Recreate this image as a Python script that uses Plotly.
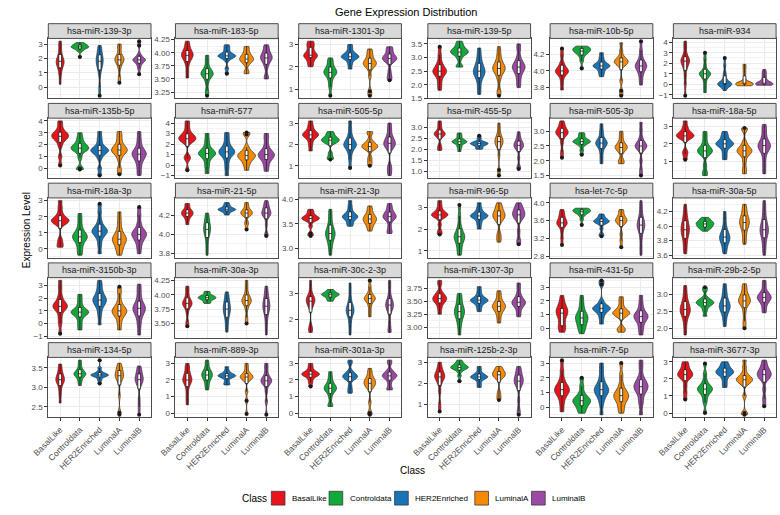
import numpy as np
import plotly.graph_objects as go

CLASSES = ["BasalLike", "Controldata", "HER2Enriched", "LuminalA", "LuminalB"]
COLORS = ["#E8141C", "#14A83B", "#1A73B5", "#F58A07", "#9B4AA3"]

GENES = [
    "hsa-miR-139-3p", "hsa-miR-183-5p", "hsa-miR-1301-3p", "hsa-miR-139-5p", "hsa-miR-10b-5p", "hsa-miR-934",
    "hsa-miR-135b-5p", "hsa-miR-577", "hsa-miR-505-5p", "hsa-miR-455-5p", "hsa-miR-505-3p", "hsa-miR-18a-5p",
    "hsa-miR-18a-3p", "hsa-miR-21-5p", "hsa-miR-21-3p", "hsa-miR-96-5p", "hsa-let-7c-5p", "hsa-miR-30a-5p",
    "hsa-miR-3150b-3p", "hsa-miR-30a-3p", "hsa-miR-30c-2-3p", "hsa-miR-1307-3p", "hsa-miR-431-5p", "hsa-miR-29b-2-5p",
    "hsa-miR-134-5p", "hsa-miR-889-3p", "hsa-miR-301a-3p", "hsa-miR-125b-2-3p", "hsa-miR-7-5p", "hsa-miR-3677-3p",
]

# y tick spacing of each panel
DTICKS = [1, 0.25, 1, 0.5, 0.2, 1,
          1, 1, 1, 0.5, 0.5, 1,
          1, 0.2, 0.5, 1, 0.4, 0.2,
          1, 0.25, 1, 0.25, 1, 0.5,
          0.5, 1, 1, 1, 1, 1]

# expression samples, one list per gene (same order as GENES)
BASALLIKE = [
    [0.2, 0.8, 1.2, 1.4, 1.6, 1.7, 1.8, 1.85, 1.95, 2.2, 2.5, 2.9, 3.2],
    [3.52, 3.65, 3.78, 3.85, 3.9, 3.93, 3.95, 3.97, 4.0, 4.03, 4.08, 4.15, 4.22],
    [2.0, 2.1, 2.2, 2.4, 2.45, 2.48, 2.5, 2.52, 2.55, 2.6, 2.8, 2.9, 3.0, 3.1, 3.15],
    [1.8, 2.0, 2.2, 2.35, 2.42, 2.47, 2.5, 2.55, 2.62, 2.7, 2.85, 3.1, 3.4],
    [3.77, 3.85, 3.92, 3.96, 3.98, 3.99, 4.0, 4.01, 4.03, 4.06, 4.1, 4.19, 4.27],
    [-1.1, 0.0, 0.8, 1.5, 1.8, 2.0, 2.2, 2.3, 2.4, 2.5, 3.0, 3.6, 4.1],
    [0.25, 1.0, 1.9, 2.3, 2.5, 2.6, 2.7, 2.8, 2.9, 3.0, 3.2, 3.6, 4.0],
    [-0.5, 0.6, 0.8, 2.1, 2.3, 2.45, 2.5, 2.6, 2.75, 2.9, 3.2, 3.7, 4.2],
    [1.7, 1.95, 2.15, 2.3, 2.37, 2.42, 2.45, 2.5, 2.55, 2.62, 2.75, 2.9, 3.1],
    [1.95, 2.05, 2.2, 2.55, 2.62, 2.67, 2.7, 2.73, 2.78, 2.85, 3.0, 3.15, 3.3],
    [2.1, 2.3, 2.6, 2.8, 2.88, 2.92, 2.95, 2.98, 3.02, 3.08, 3.15, 3.25, 3.35],
    [1.1, 1.4, 1.6, 2.25, 2.35, 2.42, 2.45, 2.5, 2.58, 2.65, 2.8, 3.0, 3.3],
    [0.1, 0.3, 0.6, 1.5, 1.62, 1.7, 1.75, 1.8, 1.88, 2.0, 2.25, 2.6, 3.0],
    [4.1, 4.14, 4.17, 4.19, 4.2, 4.21, 4.22, 4.23, 4.24, 4.25, 4.27, 4.3, 4.32],
    [3.25, 3.3, 3.45, 3.55, 3.58, 3.6, 3.61, 3.62, 3.64, 3.66, 3.7, 3.75, 3.8],
    [1.75, 1.9, 2.2, 2.5, 2.58, 2.62, 2.65, 2.68, 2.72, 2.8, 2.92, 3.1, 3.3],
    [3.05, 3.2, 3.35, 3.48, 3.5, 3.53, 3.55, 3.58, 3.62, 3.66, 3.72, 3.78, 3.85],
    [3.62, 3.7, 3.78, 3.85, 3.9, 3.93, 3.95, 3.98, 4.02, 4.06, 4.12, 4.2, 4.3],
    [-0.8, 0.0, 0.5, 1.0, 1.2, 1.3, 1.35, 1.45, 1.6, 1.8, 2.2, 2.8, 3.4],
    [3.45, 3.53, 3.68, 3.78, 3.81, 3.83, 3.85, 3.87, 3.9, 3.93, 4.0, 4.08, 4.15],
    [1.5, 1.6, 1.75, 2.45, 2.55, 2.65, 2.7, 2.75, 2.8, 2.85, 2.95, 3.2, 3.5],
    [3.25, 3.35, 3.43, 3.48, 3.51, 3.53, 3.55, 3.57, 3.6, 3.63, 3.68, 3.82, 3.9],
    [-0.3, 0.0, 0.1, 0.2, 0.8, 1.0, 1.1, 1.2, 1.3, 1.4, 1.6, 2.0, 2.4],
    [1.8, 2.05, 2.25, 2.38, 2.45, 2.5, 2.55, 2.6, 2.68, 2.75, 2.88, 3.05, 3.25],
    [2.6, 2.8, 2.95, 3.08, 3.13, 3.17, 3.2, 3.23, 3.28, 3.33, 3.4, 3.5, 3.6],
    [0.5, 0.9, 1.3, 1.7, 1.85, 1.95, 2.0, 2.1, 2.2, 2.35, 2.55, 2.8, 3.0],
    [1.6, 1.85, 2.05, 2.2, 2.26, 2.31, 2.35, 2.39, 2.44, 2.5, 2.62, 2.8, 3.0],
    [0.65, 1.0, 1.6, 2.0, 2.15, 2.25, 2.3, 2.35, 2.42, 2.5, 2.62, 2.8, 3.0],
    [-0.3, 0.2, 0.6, 0.85, 1.0, 1.1, 1.2, 1.3, 1.45, 1.6, 1.95, 2.5, 3.2],
    [0.8, 1.2, 1.6, 2.0, 2.1, 2.18, 2.25, 2.32, 2.4, 2.5, 2.65, 2.85, 3.0],
]

CONTROLDATA = [
    [2.1, 2.5, 2.6, 2.68, 2.73, 2.77, 2.8, 2.83, 2.87, 2.92, 2.97, 3.03, 3.1],
    [3.18, 3.28, 3.42, 3.52, 3.55, 3.58, 3.6, 3.62, 3.65, 3.68, 3.75, 3.85, 3.95],
    [0.7, 1.1, 1.35, 1.55, 1.65, 1.72, 1.75, 1.8, 1.88, 1.95, 2.1, 2.25, 2.4],
    [2.65, 2.7, 2.95, 3.08, 3.15, 3.18, 3.2, 3.23, 3.28, 3.33, 3.4, 3.5, 3.6],
    [4.03, 4.12, 4.17, 4.2, 4.22, 4.23, 4.24, 4.25, 4.26, 4.27, 4.28, 4.29, 4.3],
    [-0.8, -0.3, 0.2, 0.6, 0.8, 0.9, 1.0, 1.05, 1.15, 1.3, 1.8, 2.4, 3.0],
    [-0.1, 0.0, 0.9, 1.4, 1.55, 1.65, 1.7, 1.8, 1.9, 2.05, 2.3, 2.6, 3.0],
    [-0.8, -0.2, 0.3, 0.7, 0.9, 1.0, 1.1, 1.2, 1.35, 1.5, 1.9, 2.4, 3.0],
    [1.3, 1.4, 1.6, 2.05, 2.1, 2.15, 2.2, 2.22, 2.27, 2.32, 2.4, 2.5, 2.6],
    [1.9, 2.05, 2.15, 2.25, 2.3, 2.33, 2.35, 2.37, 2.4, 2.45, 2.55, 2.65, 2.75],
    [2.2, 2.35, 2.5, 2.57, 2.61, 2.63, 2.65, 2.67, 2.7, 2.73, 2.8, 2.88, 2.95],
    [0.2, 0.4, 0.8, 1.35, 1.45, 1.55, 1.6, 1.65, 1.75, 1.85, 2.1, 2.4, 2.7],
    [-0.4, -0.1, 0.2, 0.45, 0.6, 0.7, 0.75, 0.82, 0.95, 1.1, 1.4, 1.8, 2.2],
    [3.78, 3.85, 3.92, 3.98, 4.01, 4.03, 4.05, 4.07, 4.09, 4.11, 4.15, 4.18, 4.22],
    [2.85, 3.0, 3.1, 3.18, 3.24, 3.28, 3.3, 3.33, 3.38, 3.45, 3.55, 3.68, 3.8],
    [0.8, 1.0, 1.2, 1.4, 1.5, 1.6, 1.65, 1.72, 1.8, 1.95, 2.2, 2.6, 3.1],
    [3.5, 3.62, 3.7, 3.74, 3.77, 3.79, 3.8, 3.81, 3.83, 3.84, 3.86, 3.87, 3.88],
    [3.93, 3.96, 3.98, 3.99, 4.0, 4.02, 4.03, 4.04, 4.05, 4.06, 4.08, 4.1, 4.12],
    [-0.5, -0.1, 0.3, 0.6, 0.75, 0.85, 0.9, 0.95, 1.05, 1.2, 1.5, 1.9, 2.3],
    [3.85, 3.87, 3.9, 3.92, 3.93, 3.94, 3.95, 3.96, 3.97, 3.98, 4.0, 4.03, 4.06],
    [2.7, 2.76, 2.82, 2.87, 2.9, 2.93, 2.95, 2.97, 2.99, 3.01, 3.05, 3.1, 3.15],
    [2.85, 3.0, 3.1, 3.18, 3.23, 3.27, 3.3, 3.33, 3.37, 3.42, 3.5, 3.58, 3.65],
    [-0.4, -0.1, 0.1, 0.3, 0.5, 0.65, 0.75, 0.85, 1.0, 1.15, 1.5, 1.9, 2.4],
    [2.35, 2.5, 2.6, 2.67, 2.7, 2.73, 2.75, 2.77, 2.8, 2.84, 2.9, 3.1, 3.2],
    [3.05, 3.15, 3.22, 3.28, 3.31, 3.33, 3.35, 3.37, 3.4, 3.44, 3.5, 3.6, 3.7],
    [1.4, 1.65, 1.85, 2.05, 2.15, 2.22, 2.3, 2.38, 2.45, 2.55, 2.7, 2.95, 3.2],
    [0.4, 0.5, 0.95, 1.25, 1.35, 1.43, 1.5, 1.57, 1.65, 1.75, 1.95, 2.2, 2.5],
    [2.1, 2.35, 2.55, 2.65, 2.7, 2.73, 2.75, 2.78, 2.82, 2.86, 2.92, 3.0, 3.1],
    [-0.4, -0.2, 0.0, 0.15, 0.28, 0.38, 0.45, 0.52, 0.62, 0.75, 1.0, 1.45, 2.0],
    [0.0, 0.6, 0.9, 1.15, 1.25, 1.33, 1.4, 1.47, 1.55, 1.65, 1.9, 2.3, 2.9],
]

HER2ENRICHED = [
    [-0.6, 0.0, 0.9, 1.3, 1.5, 1.65, 1.8, 1.9, 2.05, 2.2, 2.4, 2.7, 2.9],
    [3.6, 3.7, 3.85, 3.9, 3.92, 3.93, 3.94, 3.95, 3.97, 4.0, 4.05, 4.1, 4.15],
    [1.9, 2.1, 2.25, 2.35, 2.4, 2.43, 2.45, 2.5, 2.55, 2.6, 2.7, 2.85, 3.0],
    [1.65, 1.9, 2.15, 2.3, 2.4, 2.45, 2.5, 2.55, 2.65, 2.75, 2.9, 3.1, 3.35],
    [3.93, 3.97, 4.0, 4.03, 4.05, 4.055, 4.06, 4.07, 4.08, 4.1, 4.13, 4.17, 4.22],
    [-0.6, -0.2, -0.1, 0.0, 0.0, 0.02, 0.05, 0.1, 0.3, 0.7, 1.1, 1.8, 2.5],
    [-0.6, 0.0, 0.85, 1.2, 1.35, 1.45, 1.5, 1.6, 1.7, 1.85, 2.2, 2.6, 3.1],
    [-1.0, -0.3, 0.3, 0.8, 1.0, 1.15, 1.25, 1.35, 1.5, 1.7, 2.1, 2.6, 3.1],
    [0.9, 1.3, 1.6, 1.8, 1.9, 1.95, 2.0, 2.05, 2.15, 2.25, 2.45, 2.75, 3.1],
    [2.0, 2.05, 2.12, 2.18, 2.21, 2.24, 2.26, 2.28, 2.3, 2.33, 2.38, 2.5, 2.62],
    [1.9, 2.1, 2.3, 2.45, 2.52, 2.57, 2.6, 2.63, 2.68, 2.75, 2.9, 3.05, 3.25],
    [1.1, 1.35, 1.6, 1.8, 1.9, 1.95, 2.0, 2.05, 2.1, 2.2, 2.35, 2.5, 2.7],
    [-0.3, 0.2, 0.6, 0.85, 0.95, 1.05, 1.1, 1.2, 1.3, 1.45, 1.8, 2.3, 2.8],
    [4.2, 4.22, 4.235, 4.245, 4.25, 4.255, 4.26, 4.265, 4.27, 4.28, 4.295, 4.31, 4.33],
    [3.45, 3.5, 3.55, 3.6, 3.62, 3.64, 3.65, 3.67, 3.7, 3.73, 3.8, 3.88, 3.98],
    [2.0, 2.2, 2.35, 2.48, 2.55, 2.58, 2.6, 2.63, 2.68, 2.75, 2.85, 3.0, 3.2],
    [3.25, 3.3, 3.42, 3.52, 3.55, 3.57, 3.58, 3.59, 3.61, 3.63, 3.66, 3.7, 3.75],
    [3.62, 3.68, 3.74, 3.78, 3.81, 3.83, 3.85, 3.87, 3.9, 3.94, 4.0, 4.1, 4.2],
    [-0.1, 0.6, 1.1, 1.45, 1.6, 1.75, 1.85, 1.95, 2.1, 2.3, 2.6, 3.0, 3.4],
    [3.35, 3.45, 3.55, 3.63, 3.68, 3.72, 3.75, 3.78, 3.82, 3.86, 3.92, 3.98, 4.05],
    [1.4, 1.7, 1.95, 2.15, 2.25, 2.3, 2.35, 2.42, 2.5, 2.6, 2.8, 3.1, 3.4],
    [3.3, 3.37, 3.43, 3.47, 3.49, 3.51, 3.52, 3.53, 3.55, 3.58, 3.63, 3.7, 3.78],
    [0.3, 0.7, 1.0, 1.2, 1.32, 1.4, 1.45, 1.5, 1.6, 1.72, 2.0, 3.2, 3.5],
    [2.05, 2.25, 2.4, 2.5, 2.57, 2.62, 2.65, 2.7, 2.77, 2.85, 2.98, 3.12, 3.3],
    [3.1, 3.18, 3.24, 3.28, 3.3, 3.31, 3.32, 3.33, 3.35, 3.37, 3.42, 3.5, 3.7],
    [1.7, 1.8, 1.95, 2.12, 2.18, 2.22, 2.25, 2.28, 2.32, 2.37, 2.45, 2.6, 2.8],
    [1.2, 1.4, 1.65, 2.0, 2.1, 2.15, 2.2, 2.25, 2.32, 2.4, 2.55, 3.0, 3.2],
    [1.8, 1.95, 2.1, 2.2, 2.25, 2.28, 2.3, 2.33, 2.37, 2.42, 2.5, 2.65, 2.8],
    [-0.5, 0.2, 0.6, 0.85, 1.0, 1.1, 1.2, 1.3, 1.45, 1.65, 2.0, 2.5, 3.0],
    [1.5, 1.75, 2.0, 2.2, 2.28, 2.35, 2.4, 2.45, 2.52, 2.6, 2.72, 2.85, 3.0],
]

LUMINALA = [
    [0.3, 0.7, 1.3, 1.6, 1.75, 1.85, 1.9, 2.0, 2.1, 2.2, 2.5, 2.8, 3.0],
    [3.6, 3.65, 3.78, 3.82, 3.85, 3.87, 3.88, 3.9, 3.93, 3.96, 4.0, 4.07, 4.12],
    [0.7, 0.9, 1.6, 1.95, 2.05, 2.1, 2.15, 2.2, 2.25, 2.35, 2.5, 2.65, 2.8],
    [1.6, 1.8, 2.2, 2.4, 2.5, 2.55, 2.6, 2.65, 2.72, 2.8, 2.95, 3.15, 3.4],
    [3.7, 3.76, 3.88, 4.06, 4.08, 4.1, 4.11, 4.12, 4.13, 4.15, 4.18, 4.25, 4.34],
    [-0.15, -0.05, 0.0, 0.0, 0.0, 0.02, 0.03, 0.05, 0.08, 0.15, 0.8, 1.2, 1.6, 1.9],
    [-0.5, 0.0, 0.8, 1.2, 1.35, 1.45, 1.55, 1.65, 1.8, 1.95, 2.3, 2.7, 3.1],
    [-0.5, 0.0, 0.3, 0.55, 0.7, 0.8, 0.9, 1.0, 1.15, 1.3, 1.7, 2.9, 3.1],
    [1.0, 1.2, 1.4, 1.75, 1.82, 1.87, 1.9, 1.95, 2.0, 2.07, 2.2, 2.5, 2.6],
    [0.8, 1.05, 1.7, 2.1, 2.2, 2.28, 2.35, 2.4, 2.48, 2.55, 2.7, 2.95, 3.2],
    [1.9, 1.95, 2.05, 2.3, 2.38, 2.42, 2.45, 2.48, 2.52, 2.58, 2.7, 2.85, 3.0],
    [0.3, 0.6, 1.0, 1.35, 1.45, 1.55, 1.6, 1.65, 1.75, 1.85, 2.1, 2.8, 2.9],
    [-0.4, -0.1, 0.1, 0.3, 0.45, 0.55, 0.6, 0.7, 0.85, 1.0, 1.35, 1.8, 2.3],
    [4.05, 4.1, 4.13, 4.19, 4.2, 4.21, 4.22, 4.23, 4.24, 4.25, 4.27, 4.3, 4.33],
    [3.35, 3.42, 3.48, 3.52, 3.55, 3.58, 3.6, 3.62, 3.65, 3.68, 3.73, 3.8, 3.87],
    [1.4, 1.6, 1.8, 2.35, 2.45, 2.55, 2.6, 2.65, 2.72, 2.8, 2.92, 3.05, 3.2],
    [3.0, 3.15, 3.3, 3.52, 3.55, 3.58, 3.6, 3.62, 3.65, 3.68, 3.73, 3.8, 3.85],
    [3.75, 3.82, 3.9, 3.96, 4.0, 4.03, 4.05, 4.07, 4.1, 4.13, 4.18, 4.24, 4.3],
    [-0.5, 0.0, 0.4, 0.65, 0.8, 0.9, 1.0, 1.1, 1.25, 1.4, 1.8, 2.4, 2.9],
    [3.5, 3.6, 3.75, 3.83, 3.86, 3.88, 3.9, 3.92, 3.95, 3.98, 4.05, 4.15, 4.25],
    [2.1, 2.3, 2.5, 2.65, 2.72, 2.77, 2.8, 2.83, 2.88, 2.93, 3.05, 3.25, 3.5],
    [3.08, 3.18, 3.26, 3.32, 3.35, 3.38, 3.4, 3.42, 3.45, 3.48, 3.54, 3.62, 3.7],
    [-0.3, -0.1, 0.0, 0.8, 0.95, 1.05, 1.1, 1.15, 1.25, 1.35, 1.6, 1.95, 2.3],
    [2.0, 2.2, 2.45, 2.65, 2.72, 2.77, 2.8, 2.84, 2.9, 2.95, 3.05, 3.18, 3.3],
    [2.3, 2.35, 2.8, 3.15, 3.22, 3.27, 3.3, 3.33, 3.37, 3.42, 3.48, 3.55, 3.62],
    [-0.05, 0.75, 1.3, 1.95, 2.05, 2.12, 2.18, 2.22, 2.27, 2.35, 2.5, 2.75, 3.0],
    [-0.1, 0.0, 0.65, 1.5, 1.62, 1.72, 1.8, 1.88, 1.97, 2.05, 2.2, 2.45, 2.7],
    [1.2, 1.3, 1.45, 1.6, 2.2, 2.27, 2.32, 2.36, 2.4, 2.43, 2.46, 2.5, 2.55, 2.6, 2.67, 2.73, 2.8],
    [-0.4, -0.1, 0.2, 0.45, 0.6, 0.7, 0.8, 0.9, 1.05, 1.2, 1.6, 2.2, 3.0],
    [-0.1, 0.0, 1.0, 1.7, 1.8, 1.88, 1.95, 2.0, 2.07, 2.15, 2.35, 2.7, 3.1],
]

LUMINALB = [
    [0.9, 1.3, 1.55, 1.7, 1.8, 1.85, 1.9, 1.95, 2.0, 2.1, 2.3, 2.9, 3.2],
    [3.5, 3.55, 3.72, 3.8, 3.85, 3.88, 3.9, 3.92, 3.95, 3.98, 4.03, 4.1, 4.15],
    [1.4, 1.5, 1.65, 1.85, 2.2, 2.26, 2.3, 2.34, 2.37, 2.4, 2.44, 2.48, 2.55, 2.65, 2.75, 2.85, 2.9],
    [1.9, 2.1, 2.3, 2.45, 2.55, 2.6, 2.65, 2.7, 2.75, 2.85, 3.0, 3.3, 3.5],
    [3.83, 3.9, 3.96, 4.0, 4.03, 4.05, 4.06, 4.07, 4.09, 4.12, 4.17, 4.25, 4.36],
    [-0.1, -0.03, 0.0, 0.0, 0.0, 0.01, 0.02, 0.03, 0.05, 0.07, 0.2, 0.4, 0.6, 0.8, 1.0, 1.2, 1.4],
    [-0.6, -0.1, 0.4, 0.7, 0.95, 1.1, 1.2, 1.3, 1.45, 1.6, 2.0, 2.5, 3.1],
    [-0.6, -0.1, 0.3, 0.6, 0.75, 0.85, 1.0, 1.1, 1.25, 1.45, 1.9, 2.5, 3.0],
    [0.55, 0.8, 1.0, 1.8, 1.9, 1.98, 2.05, 2.1, 2.2, 2.3, 2.5, 2.75, 3.0],
    [1.1, 1.2, 1.6, 2.0, 2.05, 2.12, 2.18, 2.22, 2.28, 2.35, 2.45, 2.6, 2.8],
    [1.5, 1.7, 2.0, 2.35, 2.43, 2.47, 2.5, 2.53, 2.58, 2.65, 2.8, 3.05, 3.3],
    [0.3, 0.75, 1.2, 1.55, 1.7, 1.8, 1.9, 1.95, 2.05, 2.2, 2.5, 2.8, 3.1],
    [-0.3, 0.1, 0.4, 0.6, 0.75, 0.85, 0.9, 1.0, 1.1, 1.25, 1.6, 2.1, 2.6],
    [3.98, 4.0, 4.1, 4.18, 4.2, 4.21, 4.22, 4.23, 4.25, 4.27, 4.29, 4.32, 4.35],
    [3.3, 3.35, 3.45, 3.57, 3.6, 3.63, 3.65, 3.67, 3.7, 3.73, 3.78, 3.85, 3.92],
    [1.3, 1.5, 1.9, 2.4, 2.5, 2.6, 2.65, 2.7, 2.78, 2.85, 2.95, 3.05, 3.2],
    [2.82, 3.0, 3.2, 3.35, 3.42, 3.47, 3.5, 3.53, 3.58, 3.65, 3.75, 3.9, 4.05],
    [3.6, 3.7, 3.78, 3.86, 3.9, 3.93, 3.95, 3.98, 4.02, 4.07, 4.15, 4.25, 4.35],
    [-0.9, -0.2, 0.3, 0.7, 0.9, 1.05, 1.2, 1.3, 1.45, 1.65, 2.1, 2.6, 3.1],
    [3.3, 3.45, 3.58, 3.68, 3.73, 3.77, 3.8, 3.83, 3.87, 3.92, 3.98, 4.06, 4.15],
    [1.5, 1.6, 1.9, 2.3, 2.4, 2.48, 2.55, 2.6, 2.67, 2.75, 2.95, 3.25, 3.5],
    [3.2, 3.28, 3.36, 3.41, 3.44, 3.46, 3.48, 3.5, 3.53, 3.57, 3.64, 3.75, 3.85],
    [-0.5, -0.1, 0.2, 0.5, 0.65, 0.75, 0.85, 0.95, 1.05, 1.2, 1.5, 1.9, 2.4],
    [2.45, 2.58, 2.7, 2.78, 2.83, 2.87, 2.9, 2.93, 2.97, 3.02, 3.1, 3.25, 3.4],
    [2.3, 2.5, 2.7, 3.05, 3.12, 3.17, 3.2, 3.23, 3.28, 3.33, 3.4, 3.47, 3.55],
    [-0.1, 0.7, 1.3, 1.7, 1.8, 1.88, 1.95, 2.02, 2.1, 2.2, 2.45, 2.75, 3.0],
    [1.4, 1.5, 1.8, 2.05, 2.13, 2.2, 2.25, 2.3, 2.37, 2.45, 2.6, 3.0, 3.2],
    [0.5, 0.7, 1.2, 1.8, 1.95, 2.03, 2.1, 2.17, 2.25, 2.35, 2.5, 2.65, 2.8],
    [-0.5, 0.2, 0.6, 1.0, 1.15, 1.3, 1.4, 1.5, 1.65, 1.8, 2.1, 2.7, 3.2],
    [0.4, 0.85, 1.4, 1.95, 2.05, 2.15, 2.25, 2.32, 2.4, 2.5, 2.65, 2.85, 3.1],
]

SERIES = [BASALLIKE, CONTROLDATA, HER2ENRICHED, LUMINALA, LUMINALB]

# ---------------- layout geometry (pixels) ----------------
W, H = 780, 515
COL_LEFT = [32, 162, 288, 420, 545, 671]
PANEL_W = 105
ROW_TOP = [21, 102, 183, 264, 345]
STRIP_H = 15
PANEL_H = 61
FONT = "Liberation Sans, Arial, Helvetica, sans-serif"
BORDER = "#4D4D4D"
GRID = "#EBEBEB"
MAX_W = 0.9       # ggplot violin width
BOX_W = 0.14      # inner box width in category units
BW_FACTOR = 0.45  # smoothing of the density estimate
BW_FLOOR = 0.02   # minimum bandwidth as a share of the panel's data span
WIDTH_GAMMA = 0.7 # softens the area scaling between violins of a panel


def fx(px):
    return px / W


def fy(py):
    return 1 - py / H


def bandwidth(v, floor):
    v = np.asarray(v, float)
    q1, q3 = np.percentile(v, [25, 75])
    a = min(v.std(ddof=1), (q3 - q1) / 1.349)
    if a <= 0:
        a = v.std(ddof=1)
    return max(BW_FACTOR * a, floor)


def peak_density(v, bw):
    v = np.asarray(v, float)
    t = np.linspace(v.min(), v.max(), 400)
    d = np.exp(-0.5 * ((t[:, None] - v[None, :]) / bw) ** 2).sum(1) / (len(v) * bw * np.sqrt(2 * np.pi))
    return d.max()


fig = go.Figure()
shapes = []
annotations = []
layout_axes = {}

for i, gene in enumerate(GENES):
    r, c = divmod(i, 6)
    xa = "x" if i == 0 else f"x{i + 1}"
    ya = "y" if i == 0 else f"y{i + 1}"
    xkey = "xaxis" if i == 0 else f"xaxis{i + 1}"
    ykey = "yaxis" if i == 0 else f"yaxis{i + 1}"
    left = COL_LEFT[c]
    top = ROW_TOP[r] + STRIP_H

    allv = [v for k in range(5) for v in SERIES[k][i]]
    lo, hi = min(allv), max(allv)
    floor = BW_FLOOR * (hi - lo)

    # area-scaled widths (ggplot scale = "area")
    bws = [bandwidth(SERIES[k][i], floor) for k in range(5)]
    peaks = [peak_density(SERIES[k][i], bws[k]) for k in range(5)]
    pmax = max(peaks)

    for k, cls in enumerate(CLASSES):
        vals = SERIES[k][i]
        wk = MAX_W * (peaks[k] / pmax) ** WIDTH_GAMMA
        fig.add_trace(go.Violin(
            x=[cls] * len(vals), y=vals, name=cls,
            xaxis=xa, yaxis=ya,
            fillcolor=COLORS[k], opacity=1,
            line=dict(color="#2B2B2B", width=0.7),
            width=wk, bandwidth=bws[k], spanmode="hard",
            scalegroup=f"g{i}_{k}", scalemode="width",
            box=dict(visible=True, width=min(1.0, BOX_W / wk), fillcolor="white",
                     line=dict(color="#1A1A1A", width=0.8)),
            meanline=dict(visible=False),
            points="outliers", pointpos=0, jitter=0,
            marker=dict(color="#1A1A1A", size=4, line=dict(width=0)),
            showlegend=False, hoverinfo="skip",
        ))
    pad = 0.05 * (hi - lo)
    dt = DTICKS[i]
    s = repr(float(dt))
    dec = 0 if float(dt).is_integer() else len(s.split(".")[1])
    bottom_row = r == 4
    layout_axes[xkey] = dict(
        domain=[fx(left), fx(left + PANEL_W)], anchor=ya,
        type="category", categoryorder="array", categoryarray=CLASSES,
        range=[-0.6, 4.6], showgrid=True, gridcolor=GRID, gridwidth=0.8,
        showline=True, mirror=True, linecolor=BORDER, linewidth=1,
        zeroline=False,
        ticks="outside" if bottom_row else "", ticklen=3, tickcolor="#333333",
        showticklabels=bottom_row, tickangle=-45,
        tickfont=dict(size=8.5, color="#4D4D4D", family=FONT),
    )
    layout_axes[ykey] = dict(
        domain=[fy(top + PANEL_H), fy(top)], anchor=xa,
        range=[lo - pad, hi + pad], tick0=0, dtick=dt, tickformat=f".{dec}f",
        showgrid=True, gridcolor=GRID, gridwidth=0.8,
        minor=dict(showgrid=True, gridcolor="#F3F3F3", gridwidth=0.5, dtick=dt / 2, tick0=0),
        showline=True, mirror=True, linecolor=BORDER, linewidth=1,
        zeroline=False, ticks="outside", ticklen=3, tickcolor="#333333",
        tickfont=dict(size=8, color="#4D4D4D", family=FONT),
    )
    # facet strip
    shapes.append(dict(type="rect", xref="paper", yref="paper",
                       x0=fx(left), x1=fx(left + PANEL_W),
                       y0=fy(ROW_TOP[r] + STRIP_H), y1=fy(ROW_TOP[r]),
                       fillcolor="#D9D9D9", line=dict(color=BORDER, width=1), layer="above"))
    annotations.append(dict(text=gene, xref="paper", yref="paper",
                            x=fx(left + PANEL_W / 2), y=fy(ROW_TOP[r] + STRIP_H / 2),
                            showarrow=False, xanchor="center", yanchor="middle",
                            font=dict(size=9, color="#1A1A1A", family=FONT)))

# titles
annotations.append(dict(text="Gene Expression Distribution", xref="paper", yref="paper",
                        x=fx(398), y=fy(9), showarrow=False, xanchor="center", yanchor="middle",
                        font=dict(size=11, color="#000000", family=FONT)))
annotations.append(dict(text="Expression Level", xref="paper", yref="paper",
                        x=fx(10), y=fy(231), showarrow=False, textangle=-90,
                        xanchor="center", yanchor="middle",
                        font=dict(size=10, color="#000000", family=FONT)))
annotations.append(dict(text="Class", xref="paper", yref="paper",
                        x=fx(404), y=fy(475), showarrow=False, xanchor="center", yanchor="middle",
                        font=dict(size=10, color="#000000", family=FONT)))

# legend (drawn manually, ggplot-style keys)
LEG_Y = 503
KEY = 14
KEY_X = [260, 319, 386, 468, 526]
annotations.append(dict(text="Class", xref="paper", yref="paper",
                        x=fx(228), y=fy(LEG_Y), showarrow=False, xanchor="left", yanchor="middle",
                        font=dict(size=10, color="#000000", family=FONT)))
for k, cls in enumerate(CLASSES):
    kx = KEY_X[k]
    shapes.append(dict(type="rect", xref="paper", yref="paper",
                       x0=fx(kx), x1=fx(kx + KEY), y0=fy(LEG_Y + KEY / 2), y1=fy(LEG_Y - KEY / 2),
                       fillcolor=COLORS[k], line=dict(color="#2B2B2B", width=0.7)))
    annotations.append(dict(text=cls, xref="paper", yref="paper",
                            x=fx(kx + KEY + 5), y=fy(LEG_Y), showarrow=False,
                            xanchor="left", yanchor="middle",
                            font=dict(size=8, color="#000000", family=FONT)))

fig.update_layout(
    width=W, height=H, margin=dict(l=0, r=0, t=0, b=0),
    paper_bgcolor="white", plot_bgcolor="white",
    violinmode="overlay", showlegend=False, hovermode=False,
    shapes=shapes, annotations=annotations,
    font=dict(family=FONT),
    **layout_axes,
)

fig.write_html("out.html")
